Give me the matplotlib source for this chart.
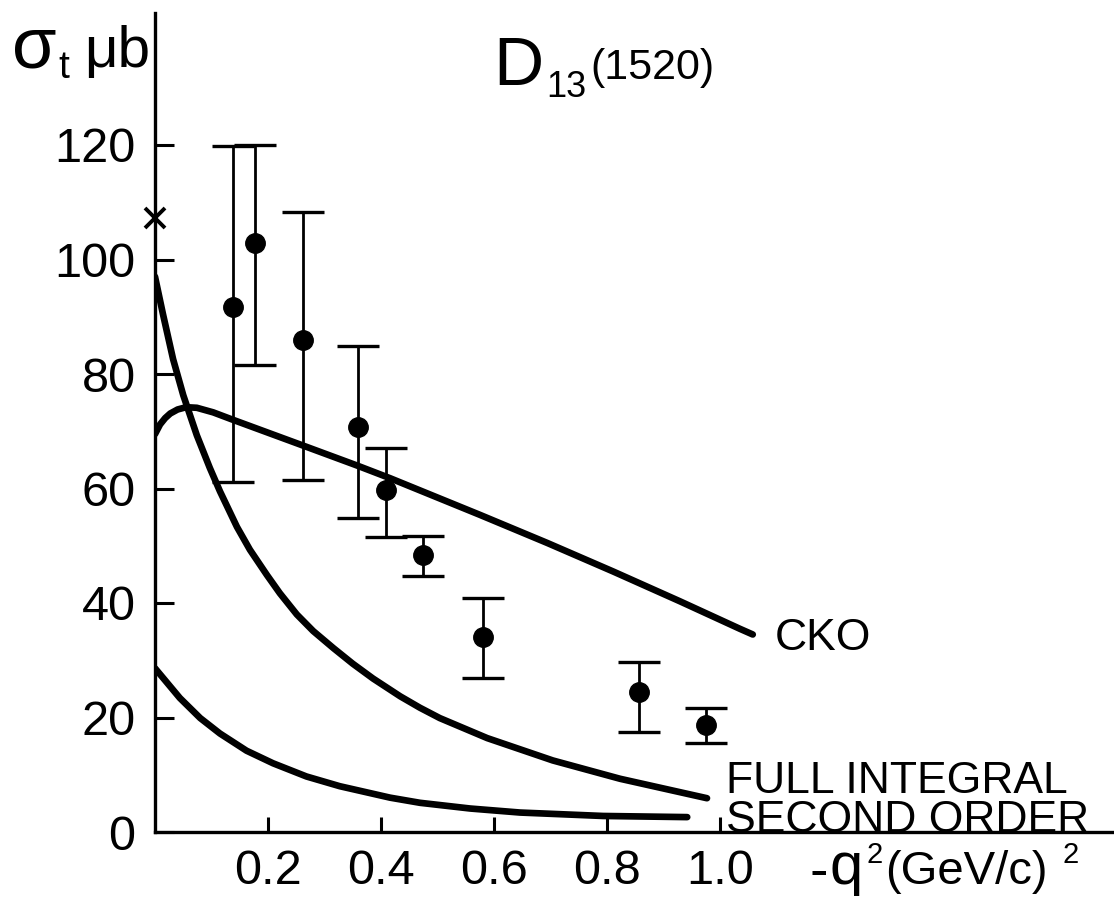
import matplotlib
matplotlib.use("Agg")
import matplotlib.pyplot as plt
import numpy as np

# ---------------- data ----------------
q2_data = [0.138, 0.177, 0.262, 0.359, 0.409, 0.474, 0.581, 0.857, 0.975]
sigma_data = [91.7, 102.9, 85.9, 70.7, 59.7, 48.4, 34.1, 24.5, 18.7]
sigma_hi = [119.8, 120.0, 108.3, 84.9, 67.1, 51.7, 40.9, 29.7, 21.7]
sigma_lo = [61.1, 81.6, 61.5, 54.8, 51.5, 44.7, 26.9, 17.5, 15.5]

photon_x = [0.0]
photon_y = [107.2]

cko_x = [0.0, 0.009, 0.018, 0.027, 0.040, 0.055, 0.074, 0.103, 0.138, 0.262,
         0.358, 0.416, 0.575, 0.694, 0.811, 0.929, 1.035, 1.058]
cko_y = [69.5, 71.2, 72.3, 73.1, 73.8, 74.2, 74.1, 73.3, 72.0, 67.5,
         64.0, 61.8, 55.4, 50.5, 45.5, 40.3, 35.5, 34.5]

full_x = [0.0, 0.014, 0.032, 0.050, 0.074, 0.097, 0.115, 0.145, 0.168, 0.198,
          0.221, 0.251, 0.280, 0.316, 0.350, 0.386, 0.434, 0.469, 0.504, 0.588,
          0.704, 0.823, 0.977]
full_y = [97.0, 90.5, 82.6, 76.3, 69.3, 63.6, 59.5, 53.3, 49.3, 44.9,
          41.7, 38.0, 35.1, 32.1, 29.4, 26.8, 23.7, 21.7, 19.9, 16.4,
          12.5, 9.3, 5.9]

second_x = [0.0, 0.044, 0.080, 0.115, 0.162, 0.209, 0.268, 0.327, 0.416, 0.469,
            0.558, 0.646, 0.793, 0.942]
second_y = [28.6, 23.4, 19.9, 17.2, 14.2, 12.0, 9.7, 8.0, 6.0, 5.1,
            4.1, 3.4, 2.8, 2.6]

yticks = [0, 20, 40, 60, 80, 100, 120]
ytick_labels = ["0", "20", "40", "60", "80", "100", "120"]
xticks = [0.2, 0.4, 0.6, 0.8, 1.0]
xtick_labels = ["0.2", "0.4", "0.6", "0.8", "1.0"]

FONT = ["Liberation Sans", "DejaVu Sans"]

W, H = 1114, 910
fig = plt.figure(figsize=(W / 100, H / 100), dpi=100)
fig.patch.set_facecolor("white")

x0px, y0px, ytoppx = 155, 832, 13
ax = fig.add_axes([x0px / W, (H - y0px) / H, (W - x0px) / W, (y0px - ytoppx) / H])
ax.set_xlim(0, (W - x0px) / 565.0)
ax.set_ylim(0, (y0px - ytoppx) / 5.725)

for s in ["top", "right"]:
    ax.spines[s].set_visible(False)
for s in ["left", "bottom"]:
    ax.spines[s].set_linewidth(2.4)
    ax.spines[s].set_color("black")

ax.set_yticks(yticks)
ax.set_yticklabels(ytick_labels, fontfamily=FONT, fontsize=35)
ax.set_xticks(xticks)
ax.set_xticklabels(xtick_labels, fontfamily=FONT, fontsize=35)
ax.tick_params(axis="y", direction="in", length=14, width=2.2, pad=14)
ax.tick_params(axis="x", direction="in", length=11, width=2.2, pad=12)

lw_curve = 4.8
for xs, ys in [(cko_x, cko_y), (full_x, full_y), (second_x, second_y)]:
    ax.plot(xs, ys, color="black", lw=lw_curve, solid_capstyle="round",
            solid_joinstyle="round")

yd = np.array(sigma_data)
yerr = [yd - np.array(sigma_lo), np.array(sigma_hi) - yd]
ax.errorbar(q2_data, sigma_data, yerr=yerr, fmt="o", color="black",
            markersize=14, elinewidth=2.0, capsize=15, capthick=2.4, zorder=5)

ax.plot(photon_x, photon_y, marker="x", color="black", markersize=15,
        markeredgewidth=2.8, linestyle="none", clip_on=False, zorder=6)


def ftxt(px, py, s, size, **kw):
    fig.text(px / W, 1 - py / H, s, fontsize=size, family=FONT,
             va="baseline", ha="left", **kw)


# title
ftxt(493, 85, "D", 50)
ftxt(546, 97, "13", 26)
ftxt(590, 79, "(1520)", 31)

# y label
ftxt(12, 67, "σ", 52)
ftxt(58, 78, "t", 28)
ftxt(84, 67, "μb", 42)

# curve labels
ftxt(775, 650, "CKO", 32)
ftxt(726, 793, "FULL INTEGRAL", 32)
ftxt(726, 832, "SECOND ORDER", 32)

# x label
ftxt(810, 888, "-", 40)
ftxt(829, 884, "q", 43)
ftxt(866, 863, "2", 21)
ftxt(885, 884, "(GeV/c)", 34)
ftxt(1062, 863, "2", 21)

fig.savefig("out.png", dpi=100, facecolor="white")
